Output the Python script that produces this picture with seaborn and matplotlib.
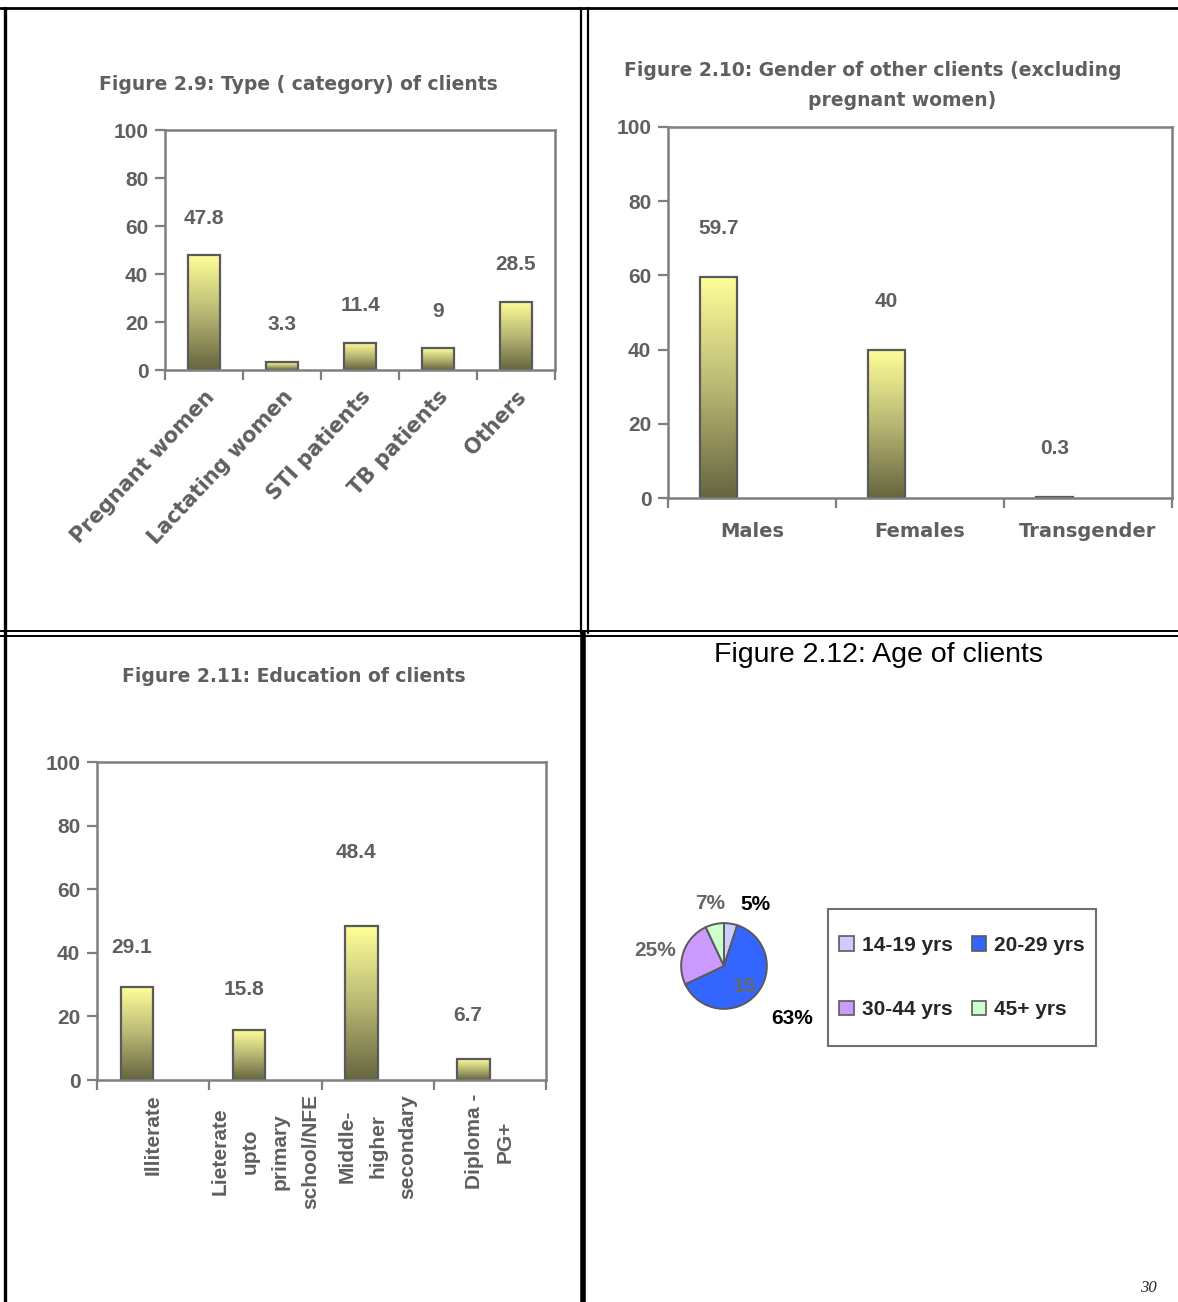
import numpy as np
import pandas as pd
import matplotlib
matplotlib.use('Agg')
import matplotlib.pyplot as plt
import seaborn as sns
from matplotlib.colors import LinearSegmentedColormap
from matplotlib.lines import Line2D
from matplotlib.patches import Patch, Rectangle

# data read from the page
type_cats = ['Pregnant women', 'Lactating women', 'STI patients', 'TB patients', 'Others']
type_vals = [47.8, 3.3, 11.4, 9, 28.5]
type_lbls = ['47.8', '3.3', '11.4', '9', '28.5']

gender_cats = ['Males', 'Females', 'Transgender']
gender_vals = [59.7, 40, 0.3]
gender_lbls = ['59.7', '40', '0.3']

edu_cats = ['Illiterate', 'Lieterate\nupto\nprimary\nschool/NFE',
            'Middle-\nhigher\nsecondary', 'Diploma -\nPG+']
edu_vals = [29.1, 15.8, 48.4, 6.7]
edu_lbls = ['29.1', '15.8', '48.4', '6.7']

age_groups = ['14-19 yrs', '20-29 yrs', '30-44 yrs', '45+ yrs']
age_pct = [5, 63, 25, 7]
age_colors = ['#CCCCFF', '#3366FF', '#CC99FF', '#CCFFCC']
age_lbl_colors = ['black', 'black', '#666666', '#666666']

sns.set_style('white')
plt.rcParams['font.family'] = ['Liberation Sans', 'DejaVu Sans']
plt.rcParams['font.weight'] = 'bold'

GREY = '#5f5f5f'
SPINE = '#7f7f7f'
WIDE = 'DejaVu Sans'   # stands in for the letter-spaced Excel text
W, H = 1178, 1302
grad_cmap = LinearSegmentedColormap.from_list('olive', ['#66653f', '#b9b874', '#ffff99'])


def rect(x0, y0, x1, y1):
    return [x0 / W, 1 - y1 / H, (x1 - x0) / W, (y1 - y0) / H]


def gradient_fill(ax):
    grad = np.linspace(0, 1, 256).reshape(-1, 1)
    for p in ax.patches:
        bb = p.get_bbox()
        if not np.isfinite(bb.height) or bb.height == 0:
            continue
        im = ax.imshow(grad, extent=[bb.x0, bb.x1, bb.y0, bb.y1], origin='lower',
                       aspect='auto', cmap=grad_cmap, zorder=p.get_zorder() - 0.01)
        im.set_clip_path(p)
        p.set_facecolor('none')
        p.set_edgecolor('#5a5a5a')
        p.set_linewidth(1.6)


def style_axes(ax, n, labels, lbl_kw, pad):
    ax.set_xlim(-0.5, n - 0.5)
    ax.set_ylim(0, 100)
    ax.set_yticks(range(0, 101, 20))
    ax.set_yticklabels([str(v) for v in range(0, 101, 20)], color=GREY,
                       fontsize=15, fontweight='bold')
    ax.set_xticks(np.arange(-0.5, n, 1))
    ax.set_xticklabels([''] * (n + 1))
    ax.set_xticks(np.arange(n), minor=True)
    ax.set_xticklabels(labels, minor=True, color=GREY, fontweight='bold', **lbl_kw)
    ax.tick_params(axis='x', which='minor', length=0, pad=pad)
    ax.tick_params(axis='both', which='major', direction='out', length=7,
                   width=1.6, color=SPINE, bottom=True, left=True)
    ax.tick_params(axis='y', pad=5)
    for s in ax.spines.values():
        s.set_visible(True)
        s.set_color(SPINE)
        s.set_linewidth(1.8)
    ax.set_xlabel('')
    ax.set_ylabel('')


def title(x, y, s):
    fig.text(x / W, 1 - y / H, s, ha='center', va='center', color=GREY,
             fontsize=13.5, fontweight='bold', family=WIDE)


fig = plt.figure(figsize=(W / 100, H / 100), dpi=100)

# Figure 2.9
ax1 = fig.add_axes(rect(165, 130, 555, 370))
df1 = pd.DataFrame({'cat': type_cats, 'val': type_vals})
sns.barplot(data=df1, x='cat', y='val', color='#ffff99', width=0.41,
            errorbar=None, ax=ax1)
ax1.bar_label(ax1.containers[0], labels=type_lbls, padding=20, color=GREY,
              fontsize=15, fontweight='bold')
gradient_fill(ax1)
style_axes(ax1, len(type_cats), type_cats,
           dict(fontsize=15, rotation=47, ha='right', rotation_mode='anchor',
                family=WIDE), pad=12)
title(298, 85, 'Figure 2.9: Type ( category) of clients')

# Figure 2.10
ax2 = fig.add_axes(rect(668, 127, 1172, 498))
df2 = pd.DataFrame({'cat': gender_cats, 'val': gender_vals, 'series': 's1'})
sns.barplot(data=df2, x='cat', y='val', hue='series', hue_order=['s1', 's2'],
            palette=['#ffff99', '#ffff99'], width=0.8, gap=0.45, dodge=True,
            errorbar=None, legend=False, ax=ax2)
ax2.bar_label(ax2.containers[0], labels=gender_lbls, padding=28, color=GREY,
              fontsize=15, fontweight='bold')
gradient_fill(ax2)
style_axes(ax2, len(gender_cats), gender_cats, dict(fontsize=14, family=WIDE), pad=17)
title(873, 70, 'Figure 2.10: Gender of other clients (excluding')
title(902, 101, 'pregnant women)')

# Figure 2.11
ax3 = fig.add_axes(rect(97, 762, 546, 1080))
df3 = pd.DataFrame({'cat': edu_cats, 'val': edu_vals, 'series': 's1'})
sns.barplot(data=df3, x='cat', y='val', hue='series', hue_order=['s1', 's2'],
            palette=['#ffff99', '#ffff99'], width=0.58, dodge=True,
            errorbar=None, legend=False, ax=ax3)
for bar, lbl, pad in zip(ax3.containers[0], edu_lbls, [22, 22, 46, 24]):
    ax3.annotate(lbl, (bar.get_x() + bar.get_width() / 2, bar.get_height()),
                 xytext=(-4, pad), textcoords='offset points', ha='center',
                 va='bottom', color=GREY, fontsize=15, fontweight='bold')
gradient_fill(ax3)
style_axes(ax3, len(edu_cats), edu_cats,
           dict(fontsize=15, rotation=90, va='top', ha='center',
                multialignment='center', linespacing=1.75), pad=10)
title(294, 677, 'Figure 2.11: Education of clients')

# Figure 2.12
fig.text(878 / W, 1 - 655 / H, 'Figure 2.12: Age of clients', ha='center', va='center',
         color='black', fontsize=20.5, fontweight='normal', fontstretch='condensed',
         family=['Liberation Sans Narrow', 'Liberation Sans'])
ax4 = fig.add_axes(rect(679, 921, 769, 1011))
wedges, _ = ax4.pie(age_pct, colors=age_colors, startangle=90, counterclock=False,
                    wedgeprops=dict(edgecolor='#5a5a5a', linewidth=1.4))
ax4.set_aspect('equal')
lbl_dist = [1.62, 2.0, 1.65, 1.5]
lbl_turn = [-18, 4, 7, 0]
for w, pct, d, t, c in zip(wedges, age_pct, lbl_dist, lbl_turn, age_lbl_colors):
    ang = np.deg2rad((w.theta1 + w.theta2) / 2 + t)
    ax4.text(d * np.cos(ang), d * np.sin(ang), f'{pct}%', ha='center', va='center',
             fontsize=15, fontweight='bold', color=c)
ang = np.deg2rad(-45)
ax4.text(0.66 * np.cos(ang), 0.66 * np.sin(ang), '15', ha='center', va='center',
         fontsize=15, fontweight='bold', color='#666666')
ax4.set_xlim(-1.05, 1.05)
ax4.set_ylim(-1.05, 1.05)

# legend fills column-first, so order entries to read row by row
order = [0, 2, 1, 3]
handles = [Patch(facecolor=age_colors[i], edgecolor='#5a5a5a', linewidth=1.2) for i in order]
fig.legend(handles, [age_groups[i] for i in order], ncol=2, loc='center',
           bbox_to_anchor=(962 / W, 1 - 977.5 / H), frameon=False,
           prop=dict(weight='bold', size=15),
           handlelength=0.7, handleheight=0.7, handletextpad=0.4,
           labelspacing=2.2, columnspacing=0.9, borderpad=0, borderaxespad=0)
fig.add_artist(Rectangle((828 / W, 1 - 1046 / H), 268 / W, 137 / H, fill=False,
                         edgecolor='#6f6f6f', linewidth=1.5, transform=fig.transFigure))


# page rules
def rule(x0, y0, x1, y1, lw):
    fig.add_artist(Line2D([x0 / W, x1 / W], [1 - y0 / H, 1 - y1 / H],
                          color='black', linewidth=lw, transform=fig.transFigure))


rule(0, 8, W, 8, 2.0)
rule(5, 8, 5, H, 2.4)
rule(581, 8, 581, 633, 1.6)
rule(588, 8, 588, 633, 1.6)
rule(0, 631, W, 631, 1.4)
rule(0, 635.5, W, 635.5, 1.4)
rule(583, 633, 583, H, 4.0)

fig.text(1148 / W, 1 - 1288 / H, '30', ha='center', va='center', fontsize=12,
         style='italic', fontweight='normal', family='Liberation Serif')

fig.savefig('out.png', dpi=100)
